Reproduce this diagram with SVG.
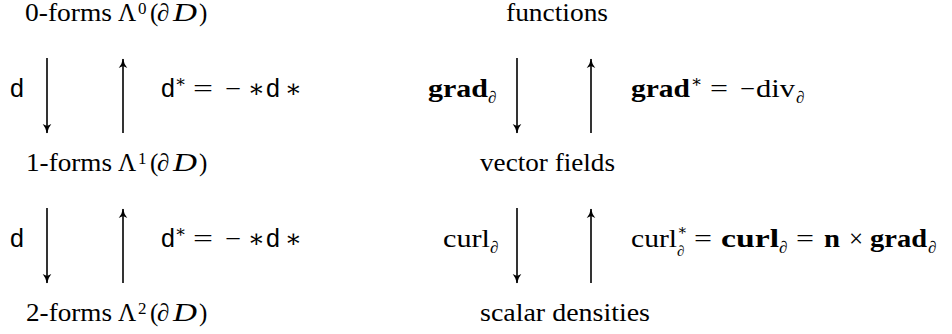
<svg xmlns="http://www.w3.org/2000/svg" width="952" height="334" viewBox="0 0 952 334">
<style>
text{font-family:"Liberation Serif","DejaVu Serif",serif;font-size:25px;fill:#000}
.sf{font-family:"Liberation Sans","DejaVu Sans",sans-serif}
.b{font-weight:bold}
.i{font-style:italic}
.sm{font-size:17px}
.xs{font-size:15px}
.ast{font-family:"DejaVu Serif",serif}
.conn line{stroke:#000;stroke-width:1.6;fill:none;marker-end:url(#ah)}
</style>
<defs>
<marker id="ah" markerUnits="userSpaceOnUse" viewBox="-11 -6 13 12" markerWidth="13" markerHeight="12" refX="0" refY="0" orient="auto">
<path d="M0.6,0 Q-5,1 -9,4.3 L-7,0 L-9,-4.3 Q-5,-1 0.6,0 Z" fill="#000"/>
</marker>
</defs>

<g id="n0">
<text x="25" y="21" textLength="87" lengthAdjust="spacingAndGlyphs">0-forms</text>
<text x="118" y="21">Λ</text>
<text x="138" y="14" class="sm">0</text>
<text x="150" y="21">(</text>
<text x="157" y="21" class="i">∂</text>
<text x="173" y="21" class="i" textLength="24" lengthAdjust="spacingAndGlyphs">D</text>
<text x="199" y="21">)</text>
</g>
<g id="n1">
<text x="26" y="171" textLength="86" lengthAdjust="spacingAndGlyphs">1-forms</text>
<text x="118" y="171">Λ</text>
<text x="138" y="164" class="sm">1</text>
<text x="150" y="171">(</text>
<text x="157" y="171" class="i">∂</text>
<text x="173" y="171" class="i" textLength="24" lengthAdjust="spacingAndGlyphs">D</text>
<text x="199" y="171">)</text>
</g>
<g id="n2">
<text x="26" y="321" textLength="86" lengthAdjust="spacingAndGlyphs">2-forms</text>
<text x="118" y="321">Λ</text>
<text x="138" y="314" class="sm">2</text>
<text x="150" y="321">(</text>
<text x="157" y="321" class="i">∂</text>
<text x="173" y="321" class="i" textLength="24" lengthAdjust="spacingAndGlyphs">D</text>
<text x="199" y="321">)</text>
</g>
<g id="f0">
<text x="506" y="21" textLength="102" lengthAdjust="spacingAndGlyphs">functions</text>
</g>
<g id="f1">
<text x="480" y="171" textLength="135" lengthAdjust="spacingAndGlyphs">vector fields</text>
</g>
<g id="f2">
<text x="480" y="321" textLength="170" lengthAdjust="spacingAndGlyphs">scalar densities</text>
</g>

<g id="connectors" class="conn">
<line x1="47" y1="58" x2="47" y2="133"/>
<line x1="123" y1="133" x2="123" y2="59"/>
<line x1="47" y1="208" x2="47" y2="283"/>
<line x1="123" y1="283" x2="123" y2="209"/>
<line x1="517" y1="58" x2="517" y2="133"/>
<line x1="591" y1="133" x2="591" y2="59"/>
<line x1="517" y1="208" x2="517" y2="283"/>
<line x1="591" y1="283" x2="591" y2="209"/>
</g>

<g id="labels">
<text x="10" y="97" class="sf">d</text>
<text x="161" y="97" class="sf">d</text>
<text x="175" y="87" class="sm ast">∗</text>
<text x="193" y="97" textLength="20" lengthAdjust="spacingAndGlyphs">=</text>
<text x="225" y="97" textLength="16" lengthAdjust="spacingAndGlyphs">−</text>
<text x="248" y="97" class="ast">∗</text>
<text x="266" y="97" class="sf">d</text>
<text x="285" y="97" class="ast">∗</text>

<text x="10" y="247" class="sf">d</text>
<text x="161" y="247" class="sf">d</text>
<text x="175" y="237" class="sm ast">∗</text>
<text x="193" y="247" textLength="20" lengthAdjust="spacingAndGlyphs">=</text>
<text x="225" y="247" textLength="16" lengthAdjust="spacingAndGlyphs">−</text>
<text x="248" y="247" class="ast">∗</text>
<text x="266" y="247" class="sf">d</text>
<text x="285" y="247" class="ast">∗</text>

<text x="428" y="97" class="b" textLength="60" lengthAdjust="spacingAndGlyphs">grad</text>
<text x="488" y="103" class="sm i">∂</text>
<text x="631" y="97" class="b" textLength="59" lengthAdjust="spacingAndGlyphs">grad</text>
<text x="691" y="87" class="sm ast">∗</text>
<text x="710" y="97" textLength="18" lengthAdjust="spacingAndGlyphs">=</text>
<text x="740" y="97" textLength="15" lengthAdjust="spacingAndGlyphs">−</text>
<text x="756" y="97" textLength="39" lengthAdjust="spacingAndGlyphs">div</text>
<text x="796" y="103" class="sm i">∂</text>

<text x="443" y="247" textLength="47" lengthAdjust="spacingAndGlyphs">curl</text>
<text x="490" y="253" class="sm i">∂</text>
<text x="631" y="247" textLength="46" lengthAdjust="spacingAndGlyphs">curl</text>
<text x="677" y="235" class="xs ast">∗</text>
<text x="677" y="256" class="xs i">∂</text>
<text x="694" y="247" textLength="18" lengthAdjust="spacingAndGlyphs">=</text>
<text x="721" y="247" class="b" textLength="58" lengthAdjust="spacingAndGlyphs">curl</text>
<text x="779" y="253" class="sm i">∂</text>
<text x="796" y="247" textLength="18" lengthAdjust="spacingAndGlyphs">=</text>
<text x="824" y="247" class="b" textLength="16" lengthAdjust="spacingAndGlyphs">n</text>
<text x="849" y="247">×</text>
<text x="870" y="247" class="b" textLength="57" lengthAdjust="spacingAndGlyphs">grad</text>
<text x="928" y="253" class="sm i">∂</text>
</g>
</svg>
